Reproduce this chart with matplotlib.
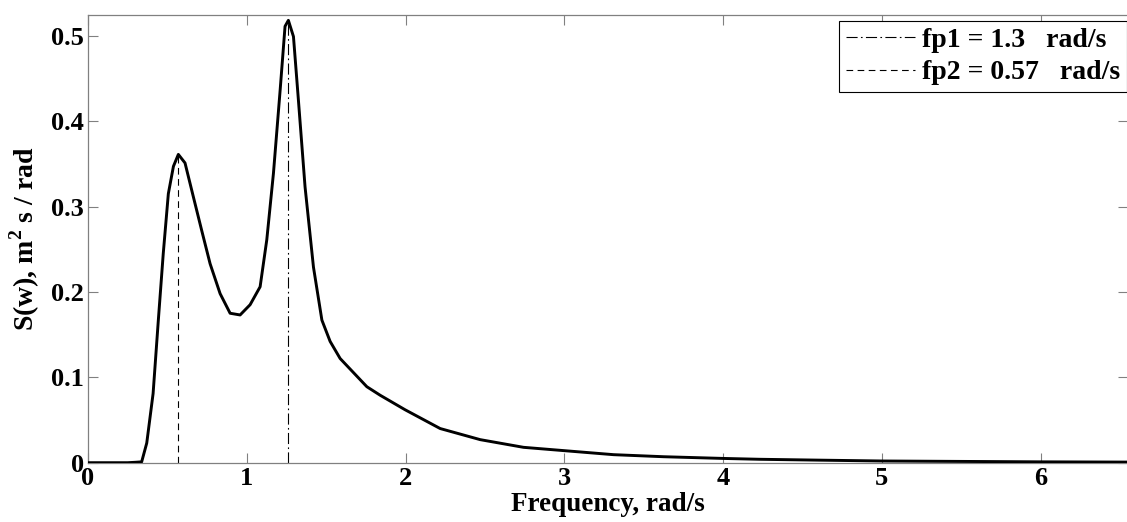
import matplotlib
matplotlib.use("Agg")
import matplotlib.pyplot as plt
import numpy as np

# spectrum
freq = [0, 0.1, 0.2, 0.25, 0.3, 0.338, 0.37, 0.41, 0.443, 0.474, 0.506, 0.538,
        0.569, 0.611, 0.664, 0.716, 0.769, 0.832, 0.895, 0.958, 1.021, 1.084,
        1.126, 1.168, 1.21, 1.241, 1.262, 1.294, 1.325, 1.367, 1.42, 1.473,
        1.525, 1.588, 1.756, 1.84, 1.997, 2.218, 2.47, 2.743, 3.006, 3.31,
        3.625, 4.0, 4.23, 4.6, 5.0, 5.5, 6.0, 6.55]
spec = [0, 0, 0, 0, 0.0005, 0.001, 0.023, 0.081, 0.167, 0.245, 0.315, 0.347,
        0.361, 0.351, 0.311, 0.272, 0.233, 0.198, 0.175, 0.173, 0.185, 0.206,
        0.261, 0.339, 0.436, 0.511, 0.518, 0.499, 0.425, 0.323, 0.229, 0.167,
        0.142, 0.122, 0.089, 0.079, 0.062, 0.040, 0.027, 0.018, 0.014, 0.0094,
        0.007, 0.005, 0.004, 0.003, 0.002, 0.0015, 0.001, 0.0007]

fp1 = 1.258   # line position as drawn
fp2 = 0.565
fp1_label = "fp1 = 1.3   rad/s"
fp2_label = "fp2 = 0.57   rad/s"

xticks = [0, 1, 2, 3, 4, 5, 6]
yticks = [0, 0.1, 0.2, 0.3, 0.4, 0.5]

plt.rcParams['font.family'] = ['Liberation Serif', 'DejaVu Serif']
plt.rcParams['font.weight'] = 'bold'
plt.rcParams['mathtext.fontset'] = 'custom'
plt.rcParams['mathtext.bf'] = 'Liberation Serif:bold'
plt.rcParams['mathtext.rm'] = 'Liberation Serif:bold'

fig = plt.figure(figsize=(11.27, 5.22), dpi=100)
ax = fig.add_axes([88 / 1127, 59.3 / 522, 1040 / 1127, 448 / 522])

ax.plot(freq, spec, color='black', lw=2.1, zorder=3, solid_joinstyle='round')

# vertical markers up to the curve
h1 = np.interp(fp1, freq, spec)
h2 = np.interp(fp2, freq, spec)
l1 = ax.vlines(fp1, 0, h1, colors='black', lw=0.8, linestyles=[(0, (10, 3, 1.5, 3))])
l2 = ax.vlines(fp2, 0, h2, colors='black', lw=0.8, linestyles=[(0, (6, 4))])

ax.set_xlim(0, 6.55)
ax.set_ylim(0, 0.5246)
ax.set_xticks(xticks)
ax.set_xticklabels([str(t) for t in xticks])
ax.set_yticks(yticks)
ax.set_yticklabels(["0" if t == 0 else f"{t:g}" for t in yticks])

ax.tick_params(direction='in', length=7, width=0.8, color='#808080',
               top=True, right=True, labelsize=19, pad=3)
for s in ax.spines.values():
    s.set_color('#808080')
    s.set_linewidth(0.9)

ax.set_xlabel("Frequency, rad/s", fontsize=19.5, fontweight='bold')
ax.xaxis.set_label_coords(0.5, -0.066)
ax.set_ylabel(r"S(w), m$^{\mathbf{2}}$ s / rad", fontsize=20, fontweight='bold')
ax.yaxis.set_label_coords(-0.0445, 0.5)

leg = ax.legend([l1, l2], [fp1_label, fp2_label], loc='upper right',
                bbox_to_anchor=(1127 / 1127, 1 - 20.7 / 522),
                bbox_transform=fig.transFigure, borderaxespad=0,
                fancybox=False, framealpha=1, edgecolor='black',
                fontsize=20, handlelength=2.5, handletextpad=0.25,
                labelspacing=0.25, borderpad=0.25)
leg.get_frame().set_linewidth(0.8)

fig.savefig("out.png", dpi=100)
